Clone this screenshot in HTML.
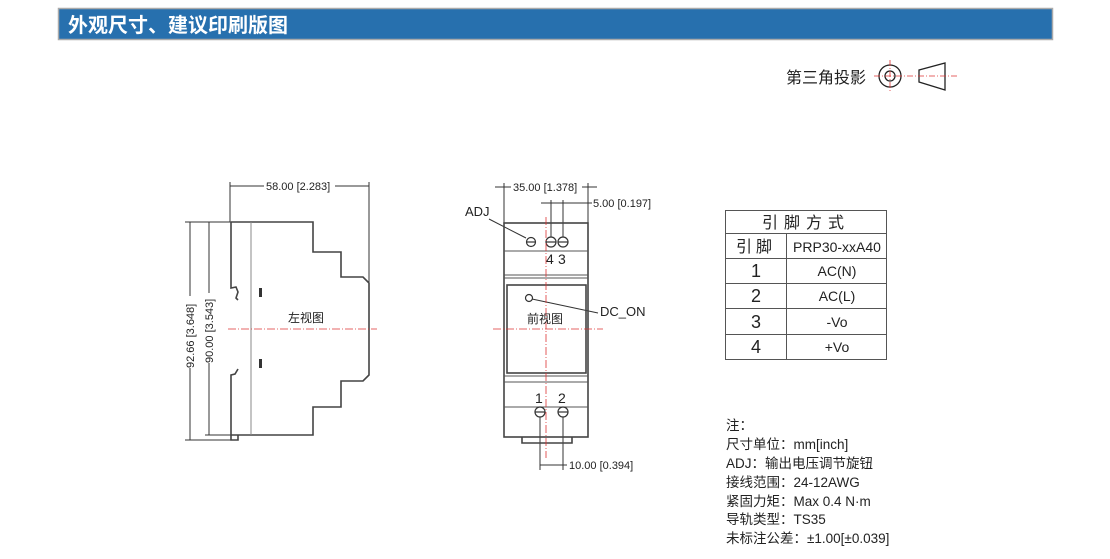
<!DOCTYPE html>
<html><head><meta charset="utf-8"><style>
body{margin:0;background:#fff;width:1110px;height:559px;overflow:hidden;}
svg{display:block}
text{font-family:"Liberation Sans","Noto Sans CJK SC",sans-serif;}
</style></head><body>
<svg width="1110" height="559" viewBox="0 0 1110 559" xmlns="http://www.w3.org/2000/svg">
<rect x="58.5" y="8.5" width="994" height="31" fill="#2770ae" stroke="#aaa" stroke-width="1.5"/>
<text x="68" y="32" font-size="20" font-weight="bold" fill="#fff">外观尺寸、建议印刷版图</text>

<!-- projection symbol -->
<text x="786" y="83" font-size="16" fill="#222">第三角投影</text>
<g stroke="#222" stroke-width="1.3" fill="none">
<circle cx="890" cy="76" r="11"/><circle cx="890" cy="76" r="5"/>
<path d="M919 70 L945 63 L945 90 L919 82 Z"/>
</g>
<g stroke="#d33" stroke-width="0.8" stroke-dasharray="6,2,1,2">
<line x1="874" y1="76" x2="958" y2="76"/><line x1="890" y1="60" x2="890" y2="93"/>
</g>

<!-- left view -->
<g stroke="#333" fill="none" stroke-width="1">
<line x1="230" y1="182" x2="230" y2="222"/><line x1="369" y1="182" x2="369" y2="282"/>
<line x1="230" y1="186" x2="264" y2="186"/><line x1="335" y1="186" x2="369" y2="186"/>
<line x1="185" y1="222" x2="231" y2="222"/><line x1="185" y1="440" x2="231" y2="440"/><line x1="205" y1="435" x2="231" y2="435"/>
<line x1="190" y1="222" x2="190" y2="296"/><line x1="190" y1="368" x2="190" y2="440"/>
<line x1="209" y1="222" x2="209" y2="293"/><line x1="209" y1="363" x2="209" y2="435"/>
</g>
<g stroke="#444" fill="none" stroke-width="1.6">
<path d="M231 222 L313 222 L313 252 L341 252 L341 277 L363 277 L369 283 L369 375 L363 381 L341 381 L341 407 L313 407 L313 435 L231 435"/>
<path d="M231 222 L231 288 L236 287 L238 292 L236 298 L238 300"/>
<path d="M238 369 L235 374 L231 375 L231 440 L238 440 L238 435"/>
</g>
<line x1="251" y1="222" x2="251" y2="435" stroke="#888" stroke-width="1"/>
<rect x="259" y="288" width="3" height="9" fill="#333"/><rect x="259" y="359" width="3" height="9" fill="#333"/>
<line x1="228" y1="329" x2="377" y2="329" stroke="#d33" stroke-width="0.8" stroke-dasharray="8,2,1,2"/>
<text x="266" y="190" font-size="11" fill="#222">58.00 [2.283]</text>
<text x="288" y="322" font-size="12" fill="#222">左视图</text>
<text transform="translate(194,368) rotate(-90)" font-size="11" fill="#222">92.66 [3.648]</text>
<text transform="translate(213,363) rotate(-90)" font-size="11" fill="#222">90.00 [3.543]</text>

<!-- front view -->
<g stroke="#333" fill="none" stroke-width="1">
<line x1="504" y1="183" x2="504" y2="223"/><line x1="588" y1="183" x2="588" y2="223"/>
<line x1="495" y1="187" x2="511" y2="187"/><line x1="582" y1="187" x2="597" y2="187"/>
<line x1="551" y1="200" x2="551" y2="238"/><line x1="563" y1="200" x2="563" y2="238"/>
<line x1="541" y1="203" x2="592" y2="203"/>
<line x1="540" y1="415" x2="540" y2="470"/><line x1="563" y1="415" x2="563" y2="470"/>
<line x1="540" y1="465" x2="567" y2="465"/>
<line x1="489" y1="219" x2="526" y2="238"/>
<line x1="532" y1="299" x2="598" y2="313"/>
</g>
<g stroke="#444" fill="none" stroke-width="1.6">
<rect x="504" y="223" width="84" height="214"/>
<rect x="507" y="285" width="79" height="88"/>
<path d="M522 437 L522 443 L572 443 L572 437"/>
</g>
<g stroke="#555" stroke-width="1">
<line x1="504" y1="251" x2="588" y2="251"/><line x1="504" y1="275" x2="588" y2="275"/><line x1="504" y1="278" x2="588" y2="278"/>
<line x1="504" y1="376" x2="588" y2="376"/><line x1="504" y1="382" x2="588" y2="382"/><line x1="504" y1="407" x2="588" y2="407"/>
</g>
<g stroke="#333" fill="#fff" stroke-width="1.2">
<circle cx="531" cy="242" r="4.5"/><circle cx="551" cy="242" r="5"/><circle cx="563" cy="242" r="5"/>
<circle cx="540" cy="412" r="5"/><circle cx="563" cy="412" r="5"/>
<circle cx="529" cy="298" r="3.5"/>
</g>
<g stroke="#333" stroke-width="1.2">
<line x1="527" y1="242" x2="535" y2="242"/><line x1="546" y1="242" x2="556" y2="242"/><line x1="558" y1="242" x2="568" y2="242"/>
<line x1="535" y1="412" x2="545" y2="412"/><line x1="558" y1="412" x2="568" y2="412"/>
</g>
<g stroke="#d33" stroke-width="0.8" stroke-dasharray="8,2,1,2">
<line x1="546" y1="217" x2="546" y2="458"/><line x1="493" y1="329" x2="603" y2="329"/>
</g>
<text x="513" y="191" font-size="11" fill="#222">35.00 [1.378]</text>
<text x="593" y="207" font-size="11" fill="#222">5.00 [0.197]</text>
<text x="569" y="469" font-size="11" fill="#222">10.00 [0.394]</text>
<text x="465" y="216" font-size="13" fill="#222">ADJ</text>
<text x="600" y="316" font-size="13" fill="#222">DC_ON</text>
<text x="527" y="323" font-size="12" fill="#222">前视图</text>
<text x="546" y="264" font-size="14" fill="#222">4</text><text x="558" y="264" font-size="14" fill="#222">3</text>
<text x="535" y="403" font-size="14" fill="#222">1</text><text x="558" y="403" font-size="14" fill="#222">2</text>

<!-- table -->
<g stroke="#555" stroke-width="1" fill="none">
<rect x="725.5" y="210.5" width="161" height="149"/>
<line x1="726" y1="233.5" x2="887" y2="233.5"/><line x1="726" y1="258.5" x2="887" y2="258.5"/>
<line x1="726" y1="283.5" x2="887" y2="283.5"/><line x1="726" y1="308.5" x2="887" y2="308.5"/>
<line x1="726" y1="334.5" x2="887" y2="334.5"/><line x1="786.5" y1="234" x2="786.5" y2="360"/>
</g>
<g font-size="14" fill="#222" text-anchor="middle">
<text x="806" y="228" font-size="16" letter-spacing="6">引脚方式</text>
<text x="756" y="252" font-size="16" letter-spacing="4">引脚</text>
<text x="837" y="252">PRP30-xxA40</text>
<text x="756" y="277" font-size="18">1</text><text x="837" y="276">AC(N)</text>
<text x="756" y="302" font-size="18">2</text><text x="837" y="301">AC(L)</text>
<text x="756" y="328" font-size="18">3</text><text x="837" y="327">-Vo</text>
<text x="756" y="353" font-size="18">4</text><text x="837" y="352">+Vo</text>
</g>

<!-- notes -->
<g font-size="13.5" fill="#222">
<text x="726" y="430">注：</text>
<text x="726" y="449">尺寸单位：mm[inch]</text>
<text x="726" y="468">ADJ：输出电压调节旋钮</text>
<text x="726" y="487">接线范围：24-12AWG</text>
<text x="726" y="506">紧固力矩：Max 0.4 N·m</text>
<text x="726" y="524">导轨类型：TS35</text>
<text x="726" y="543">未标注公差：±1.00[±0.039]</text>
</g>
</svg>
</body></html>
